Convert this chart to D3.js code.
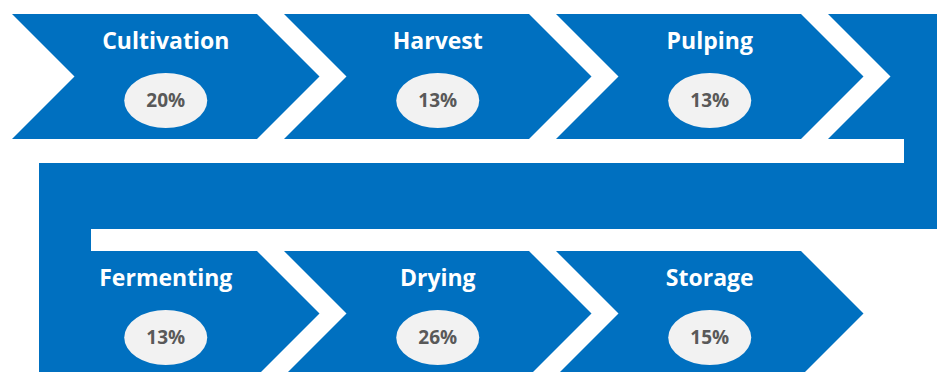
<!DOCTYPE html>
<html>
<head>
<meta charset="utf-8">
<script src="https://cdn.jsdelivr.net/npm/d3@7"></script>
<style>
  body { margin: 0; background: #fff; }
  svg { display: block; }
</style>
</head>
<body>
<div id="chart"></div>
<script>
// process stages, in flow order (3 per row, snake layout)
var stages = ["Cultivation", "Harvest", "Pulping", "Fermenting", "Drying", "Storage"];
var shares = [20, 13, 13, 13, 26, 15];
var rowOf = [0, 0, 0, 1, 1, 1];
var colOf = [0, 1, 2, 0, 1, 2];

var width = 937, height = 372;
var blue = "#0070C0";
var bandH = 125;       // chevron height
var depth = 62.5;      // arrow tip / notch depth
var bodyW = 245;       // top edge length of a chevron

var x = d3.scaleLinear().domain([0, 3]).range([12, 828]);   // column left edges
var y = d3.scaleLinear().domain([0, 1]).range([14, 251]);   // row top edges

var svg = d3.select("#chart").append("svg")
    .attr("width", width)
    .attr("height", height);

function chevron(d, i) {
    var p = d3.path();
    var x0 = x(colOf[i]), y0 = y(rowOf[i]), ym = y0 + bandH / 2, y1 = y0 + bandH;
    if (i === 3) {
        // fermenting chevron joined to the u-turn connector
        var cx0 = x(3), top = y(0), bot = top + bandH;
        var cx1 = width, lx = 39, inner = 91;
        p.moveTo(cx0, top);
        p.lineTo(cx1, top);
        p.lineTo(cx1, y0 - 22);
        p.lineTo(inner, y0 - 22);
        p.lineTo(inner, y0);
        p.lineTo(x0 + bodyW, y0);
        p.lineTo(x0 + bodyW + depth, ym);
        p.lineTo(x0 + bodyW, y1);
        p.lineTo(lx, y1);
        p.lineTo(lx, bot + 24);
        p.lineTo(904, bot + 24);
        p.lineTo(904, bot);
        p.lineTo(cx0, bot);
        p.lineTo(cx0 + depth, top + bandH / 2);
        p.closePath();
        return p.toString();
    }
    p.moveTo(x0, y0);
    p.lineTo(x0 + bodyW, y0);
    p.lineTo(x0 + bodyW + depth, ym);
    p.lineTo(x0 + bodyW, y1);
    p.lineTo(x0, y1);
    p.lineTo(x0 + depth, ym);
    p.closePath();
    return p.toString();
}

var g = svg.selectAll("g.stage")
    .data(stages)
    .enter().append("g")
    .attr("class", "stage");

g.append("path")
    .attr("d", chevron)
    .style("fill", blue);

// label centre sits in the middle of the chevron body
function cx(d, i) { return x(colOf[i]) + depth + (bodyW - depth) / 2; }

g.append("text")
    .attr("x", cx)
    .attr("y", function (d, i) { return y(rowOf[i]) + 35; })
    .attr("text-anchor", "middle")
    .style("font-family", "'Open Sans', sans-serif")
    .style("font-weight", "bold")
    .style("font-size", "23px")
    .style("fill", "#fff")
    .text(function (d) { return d; });

g.append("ellipse")
    .attr("cx", cx)
    .attr("cy", function (d, i) { return y(rowOf[i]) + 86.5; })
    .attr("rx", 41.5)
    .attr("ry", 27.5)
    .style("fill", "#F2F2F2");

g.append("text")
    .attr("x", cx)
    .attr("y", function (d, i) { return y(rowOf[i]) + 86.5; })
    .attr("dy", "0.36em")
    .attr("text-anchor", "middle")
    .style("font-family", "'Open Sans', sans-serif")
    .style("font-weight", "bold")
    .style("font-size", "19px")
    .style("fill", "#595959")
    .text(function (d, i) { return shares[i] + "%"; });
</script>
</body>
</html>
